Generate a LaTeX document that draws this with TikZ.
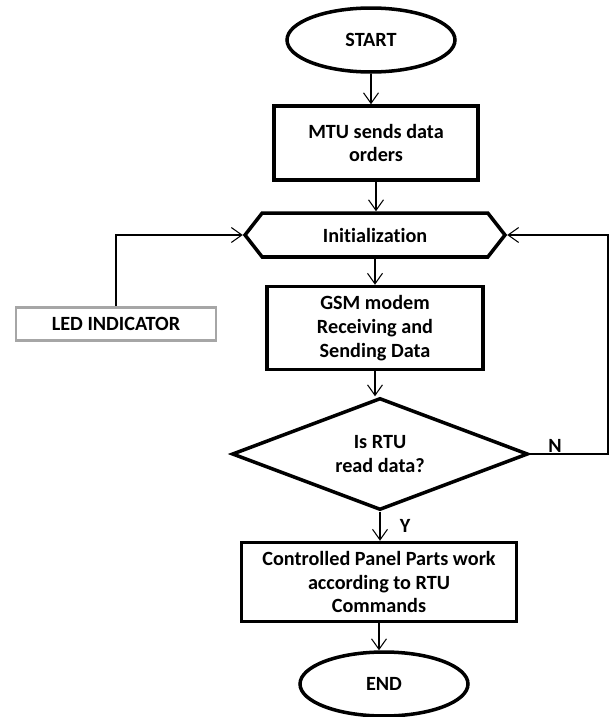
\documentclass[tikz,border=0pt]{standalone}
\usepackage{fontspec}
\setmainfont{Carlito}[Ligatures=NoCommon]
\usetikzlibrary{shapes.geometric,shapes.symbols,arrows.meta}
\tikzset{
term/.style={ellipse, draw=black, line width=2pt, minimum width=3.36cm, minimum height=1.28cm, font=\fontsize{11.5}{13.5}\selectfont\bfseries},
proc/.style={rectangle, draw=black, line width=2pt, align=center, font=\fontsize{11.5}{13.5}\selectfont\bfseries, inner sep=0pt},
dec/.style={diamond, aspect=2.6, draw=black, line width=2pt, align=center, font=\fontsize{11.5}{13.5}\selectfont\bfseries, minimum width=5.92cm, minimum height=2.24cm, inner sep=0pt},
prep/.style={signal, signal to=west and east, signal pointer angle=104, draw=black, line width=2pt, font=\fontsize{11.5}{13.5}\selectfont\bfseries, minimum width=5.2cm, minimum height=0.88cm, inner sep=0pt},
ledbox/.style={rectangle, draw=black!35, line width=1.6pt, font=\fontsize{11.5}{13.5}\selectfont\bfseries, minimum width=4cm, minimum height=0.66cm},
arr/.style={line width=0.6pt, -{Straight Barb[length=6pt,width=8.5pt]}},
lab/.style={font=\fontsize{11.5}{13.5}\selectfont\bfseries}
}
\begin{document}
\begin{tikzpicture}[x=0.02cm,y=-0.02cm]
\useasboundingbox (0,0) rectangle (609,717);
\node[term] (start) at (371,40) {START};
\node[proc, minimum width=4.08cm, minimum height=1.48cm] (mtu) at (376,143) {MTU sends data\\orders};
\node[prep] (init) at (375,235) {Initialization};
\node[ledbox] (led) at (116,324) {LED INDICATOR};
\node[proc, minimum width=4.32cm, minimum height=1.66cm] (gsm) at (375,328) {GSM modem\\Receiving and\\Sending Data};
\node[dec] (rtu) at (380,454) {Is RTU\\read data?};
\node[proc, minimum width=5.5cm, minimum height=1.58cm] (ctrl) at (379,582) {Controlled Panel Parts work\\according to RTU\\Commands};
\node[term] (end) at (384,684) {END};
\node[lab] (n) at (555,446) {N};
\node[lab] (y) at (405,526) {Y};
\coordinate (turn) at (608,454);
\draw[arr] (start.south) -- (start.south |- mtu.north);
\draw[arr] (mtu.south) -- (mtu.south |- init.north);
\draw[arr] (init.south) -- (init.south |- gsm.north);
\draw[arr] (gsm.south) -- (gsm.south |- rtu.north);
\draw[arr] (rtu.south) -- (rtu.south |- ctrl.north);
\draw[arr] (ctrl.south) -- (ctrl.south |- end.north);
\draw[arr] (led.north) |- (init.west);
\draw[arr] (rtu.east) -- (turn) |- (init.east);
\end{tikzpicture}
\end{document}
